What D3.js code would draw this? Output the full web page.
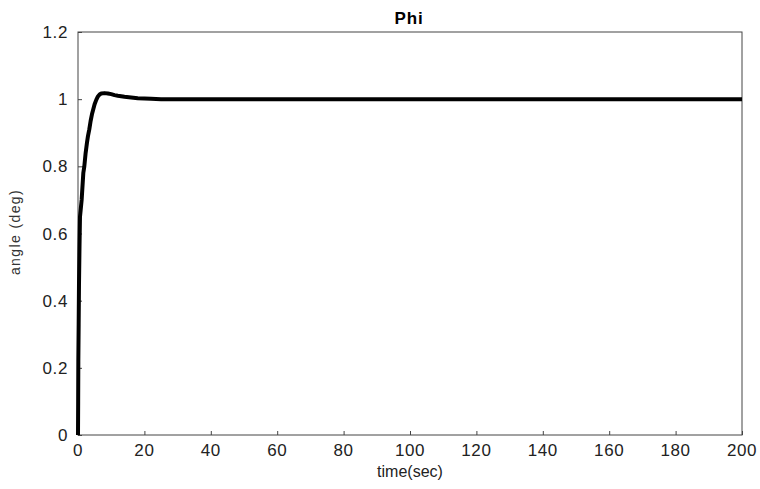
<!DOCTYPE html>
<html>
<head>
<meta charset="utf-8">
<script src="https://cdn.jsdelivr.net/npm/d3@7"></script>
<style>
  html, body { margin: 0; padding: 0; background: #fff; overflow: hidden; }
  svg { display: block; }
  text { font-family: "Liberation Sans", Arial, sans-serif; }
</style>
</head>
<body>
<svg width="760" height="489"></svg>
<script>
/* Data */
const timeSec = [0, 0.05, 0.1, 0.2, 0.3, 0.45, 0.6, 0.8, 1.1, 1.6, 1.9, 2.3, 2.7, 3.0, 3.4, 3.8, 4.2, 4.6, 5.0, 5.5, 6.0, 6.5, 7.0, 8.0, 9.0, 10, 11, 12, 14, 16, 18, 20, 22, 25, 30, 50, 100, 150, 200];
const angleDeg = [0, 0.1, 0.22, 0.33, 0.45, 0.56, 0.65, 0.67, 0.70, 0.78, 0.80, 0.84, 0.87, 0.89, 0.91, 0.935, 0.955, 0.97, 0.985, 0.998, 1.008, 1.014, 1.017, 1.018, 1.017, 1.015, 1.012, 1.01, 1.007, 1.005, 1.003, 1.002, 1.001, 1.0, 1.0, 1.0, 1.0, 1.0, 1.0];
const xTicks = [0, 20, 40, 60, 80, 100, 120, 140, 160, 180, 200];
const yTicks = [0, 0.2, 0.4, 0.6, 0.8, 1, 1.2];
const yTickLabels = ['0', '0.2', '0.4', '0.6', '0.8', '1', '1.2'];

/* SVG */
const svg = d3.select('svg');
const margin = { top: 32, right: 18, bottom: 54, left: 78 };
const width = +svg.attr('width');
const height = +svg.attr('height');
const innerWidth = width - margin.left - margin.right;
const innerHeight = height - margin.top - margin.bottom;

const x = d3.scaleLinear().domain([0, 200]).range([0, innerWidth]);
const y = d3.scaleLinear().domain([0, 1.2]).range([innerHeight, 0]);

const g = svg.append('g')
  .attr('transform', `translate(${margin.left},${margin.top})`);

// box
g.append('rect')
  .attr('width', innerWidth)
  .attr('height', innerHeight)
  .attr('fill', 'none')
  .attr('stroke', '#444')
  .attr('stroke-width', 1);

// tick marks (inward), labels drawn separately
const xAxis = g.append('g')
  .attr('transform', `translate(0,${innerHeight})`)
  .call(d3.axisTop(x).tickValues(xTicks).tickSize(4).tickFormat(''));
xAxis.select('.domain').remove();
xAxis.selectAll('line').attr('stroke', '#444');

const yAxis = g.append('g')
  .call(d3.axisRight(y).tickValues(yTicks).tickSize(4).tickFormat(''));
yAxis.select('.domain').remove();
yAxis.selectAll('line').attr('stroke', '#444');

g.selectAll('.xlabel')
  .data(xTicks)
  .enter().append('text')
  .attr('class', 'xlabel')
  .attr('x', d => x(d))
  .attr('y', innerHeight + 21)
  .attr('text-anchor', 'middle')
  .attr('fill', '#222')
  .style('font-size', '17px')
  .style('letter-spacing', '0.6px')
  .text(d => d);

g.selectAll('.ylabel')
  .data(yTicks)
  .enter().append('text')
  .attr('class', 'ylabel')
  .attr('x', -10)
  .attr('y', d => y(d) + 6)
  .attr('text-anchor', 'end')
  .attr('fill', '#222')
  .style('font-size', '17px')
  .style('letter-spacing', '0.6px')
  .text((d, i) => yTickLabels[i]);

// line
const line = d3.line()
  .x((d, i) => x(timeSec[i]))
  .y(d => y(d));

g.append('path')
  .datum(angleDeg)
  .attr('fill', 'none')
  .attr('stroke', '#000')
  .attr('stroke-width', 4)
  .attr('stroke-linejoin', 'round')
  .attr('d', line);

// titles
svg.append('text')
  .attr('x', 409)
  .attr('y', 24)
  .attr('text-anchor', 'middle')
  .style('font-size', '17px')
  .style('font-weight', 'bold')
  .style('letter-spacing', '0.8px')
  .text('Phi');

svg.append('text')
  .attr('x', 410)
  .attr('y', 477)
  .attr('text-anchor', 'middle')
  .attr('fill', '#222')
  .style('font-size', '16px')
  .text('time(sec)');

svg.append('text')
  .attr('transform', 'translate(20,232) rotate(-90)')
  .attr('text-anchor', 'middle')
  .attr('fill', '#333')
  .style('font-size', '14px')
  .style('letter-spacing', '1.4px')
  .text('angle (deg)');
</script>
</body>
</html>
